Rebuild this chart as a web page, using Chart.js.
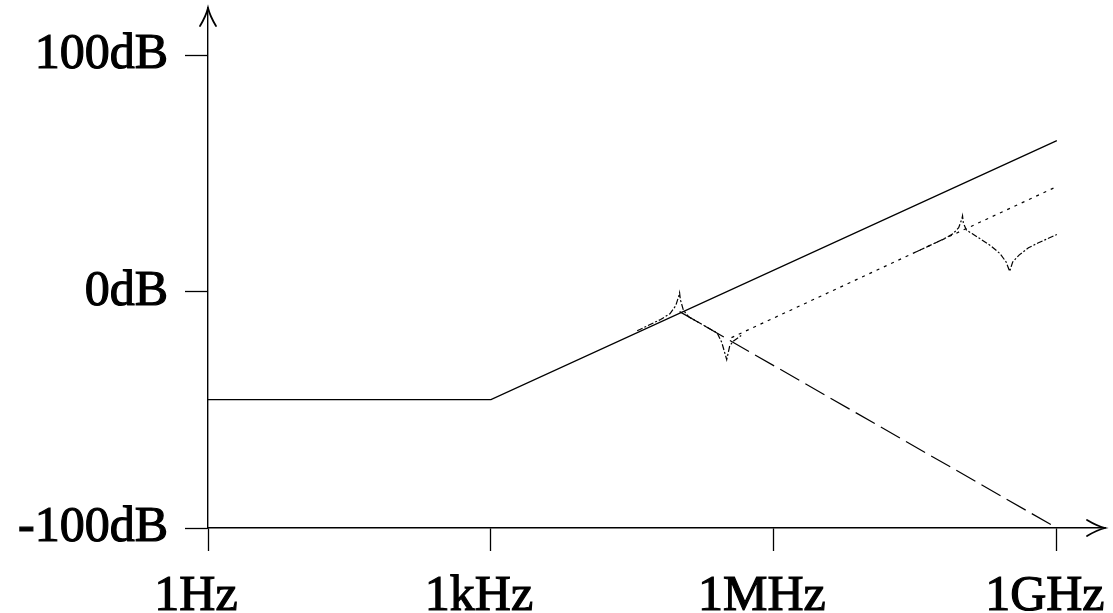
<!DOCTYPE html>
<html>
<head>
<meta charset="utf-8">
<script src="https://cdn.jsdelivr.net/npm/chart.js@4"></script>
<style>
  html, body { margin: 0; padding: 0; background: #ffffff; }
  #wrap { width: 1113px; height: 613px; }
</style>
</head>
<body>
<div id="wrap"><canvas id="c" width="1113" height="613"></canvas></div>
<script>
// ---- tick values and labels ----
const xTickValues = [1, 1e3, 1e6, 1e9];
const xTickLabels = ['1Hz', '1kHz', '1MHz', '1GHz'];
const yTickValues = [-100, 0, 100];
const yTickLabels = ['-100dB', '0dB', '100dB'];

// ---- series (frequency in Hz, gain in dB) ----
const solidFreq = [1, 1e3, 1e9];
const solidGain = [-45.7, -45.7, 63.8];

const dashedFreq = [1e5, 1e9];
const dashedGain = [-8.5, -100];

const dottedFreq = [3.55e5, 1e9];
const dottedGain = [-19.5, 44.4];

const res1Freq = [3.55e4, 6.3e4, 7.9e4, 9.1e4, 9.8e4, 1e5, 1.02e5, 1.1e5, 1.26e5, 1.58e5, 2.0e5, 2.5e5, 2.8e5, 3.16e5, 3.4e5, 3.7e5, 4.5e5];
const res1Gain = [-16.6, -11.8, -9.4, -6.0, -2.0, -0.5, -3.5, -8.0, -10.8, -13.0, -15.3, -17.5, -21.5, -28.8, -23.0, -21.0, -18.6];

const res2Freq = [3.16e7, 6.3e7, 7.9e7, 9.1e7, 9.8e7, 1e8, 1.02e8, 1.1e8, 1.26e8, 1.58e8, 2.0e8, 2.5e8, 2.9e8, 3.16e8, 3.4e8, 4.0e8, 5.0e8, 6.3e8, 1e9];
const res2Gain = [16.6, 22.2, 24.4, 27.0, 30.5, 32.0, 29.0, 26.0, 24.5, 22.0, 19.3, 16.0, 12.5, 8.5, 12.5, 15.5, 18.5, 20.5, 24.1];

function pts(xs, ys) { return xs.map((x, i) => ({ x: x, y: ys[i] })); }

const FONT = { family: "'Liberation Serif', 'DejaVu Serif', serif", size: 50, weight: 'normal' };

const arrowPlugin = {
  id: 'axisArrows',
  afterDraw(chart) {
    const ctx = chart.ctx;
    const a = chart.chartArea;
    ctx.save();
    ctx.strokeStyle = '#000';
    ctx.lineWidth = 1.8;
    ctx.lineCap = 'round';
    // top arrow on y axis
    let tx = a.left, ty = a.top;
    ctx.beginPath();
    ctx.moveTo(tx - 8, ty + 18);
    ctx.quadraticCurveTo(tx - 2, ty + 8, tx, ty);
    ctx.quadraticCurveTo(tx + 2, ty + 8, tx + 8, ty + 18);
    ctx.stroke();
    // right arrow on x axis
    tx = a.right; ty = a.bottom;
    ctx.beginPath();
    ctx.moveTo(tx - 18, ty - 8);
    ctx.quadraticCurveTo(tx - 8, ty - 2, tx, ty);
    ctx.quadraticCurveTo(tx - 8, ty + 2, tx - 18, ty + 8);
    ctx.stroke();
    ctx.restore();
  }
};

new Chart(document.getElementById('c'), {
  type: 'line',
  data: {
    datasets: [
      { data: pts(solidFreq, solidGain), borderColor: '#000', borderWidth: 1.3 },
      { data: pts(dashedFreq, dashedGain), borderColor: '#000', borderWidth: 1.2, borderDash: [22, 7] },
      { data: pts(dottedFreq, dottedGain), borderColor: '#000', borderWidth: 1.2, borderDash: [3, 5] },
      { data: pts(res1Freq, res1Gain), borderColor: '#000', borderWidth: 1.2, borderDash: [6, 2, 2, 2] },
      { data: pts(res2Freq, res2Gain), borderColor: '#000', borderWidth: 1.2, borderDash: [6, 2, 2, 2] }
    ]
  },
  options: {
    responsive: false,
    animation: false,
    devicePixelRatio: 1,
    layout: { padding: { top: 8, right: 8, left: 0, bottom: 0 } },
    elements: { point: { radius: 0 }, line: { tension: 0, fill: false } },
    plugins: { legend: { display: false }, tooltip: { enabled: false } },
    scales: {
      x: {
        type: 'logarithmic',
        min: 1,
        max: 3.24e9,
        afterBuildTicks(scale) { scale.ticks = xTickValues.map(v => ({ value: v })); },
        afterFit(scale) { scale.height = 85; scale.paddingRight = 0; scale.paddingLeft = 0; },
        border: { display: true, color: '#000', width: 1.4 },
        grid: { drawOnChartArea: false, drawTicks: true, tickLength: 23, tickColor: '#000', tickWidth: 1.3 },
        ticks: {
          autoSkip: false, maxRotation: 0, minRotation: 0,
          labelOffset: -12, padding: 16,
          color: '#000', font: FONT,
          textStrokeColor: '#000', textStrokeWidth: 1.2,
          callback(value) { const i = xTickValues.indexOf(value); return i >= 0 ? xTickLabels[i] : ''; }
        }
      },
      y: {
        type: 'linear',
        min: -100,
        max: 119.9,
        afterBuildTicks(scale) { scale.ticks = yTickValues.map(v => ({ value: v })); },
        afterFit(scale) { scale.width = 208; scale.paddingTop = 0; scale.paddingBottom = 0; },
        border: { display: true, color: '#000', width: 1.4 },
        grid: { drawOnChartArea: false, drawTicks: true, tickLength: 23, tickColor: '#000', tickWidth: 1.3 },
        ticks: {
          autoSkip: false, padding: 17,
          color: '#000', font: FONT,
          textStrokeColor: '#000', textStrokeWidth: 1.2,
          callback(value) { const i = yTickValues.indexOf(value); return i >= 0 ? yTickLabels[i] : ''; }
        }
      }
    }
  },
  plugins: [arrowPlugin]
});
</script>
</body>
</html>
